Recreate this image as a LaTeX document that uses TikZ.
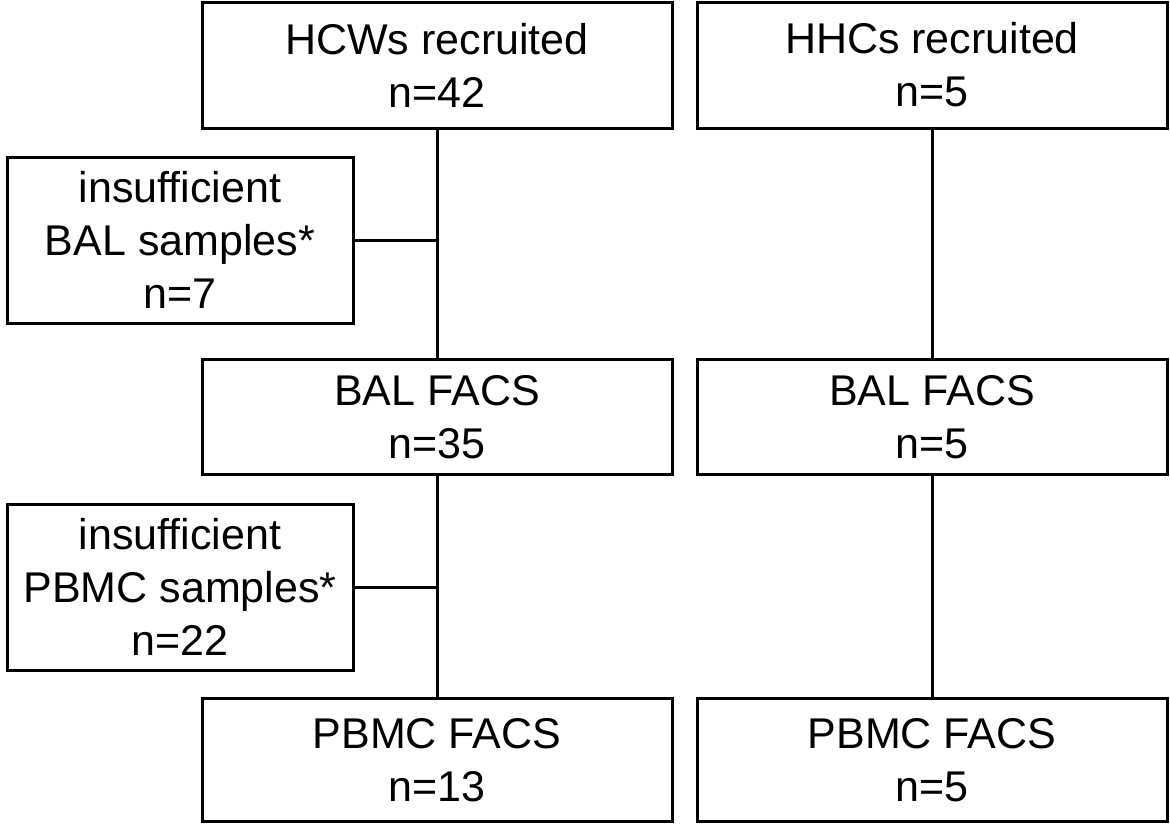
\documentclass[tikz,border=0pt]{standalone}
\usepackage{fontspec}
\setmainfont{Liberation Sans}
\usetikzlibrary{positioning,calc}

\begin{document}
\begin{tikzpicture}[x=1pt,y=-1pt,line width=3pt,every node/.style={font=\fontsize{43}{53}\selectfont,align=center,inner sep=0pt},box/.style={draw=black,minimum width=470pt},side/.style={draw=black,minimum width=346pt,minimum height=166pt}]
\useasboundingbox (0,0) rectangle (1170,823);
\node[box,minimum height=126pt] (hcw) at (437,65) {HCWs recruited\\n=42};
\node[box,minimum height=126pt] (hhc) at (932,65) {HHCs recruited\\n=5};
\node[box,minimum height=115pt] (balL) at (437,417) {BAL FACS\\n=35};
\node[box,minimum height=115pt] (balR) at (932,417) {BAL FACS\\n=5};
\node[box,minimum height=123pt] (pbmcL) at (437,760) {PBMC FACS\\n=13};
\node[box,minimum height=123pt] (pbmcR) at (932,760) {PBMC FACS\\n=5};
\node[side] (exBAL) at (180,240) {insufficient\\BAL samples*\\n=7};
\node[side] (exPBMC) at (180,587) {insufficient\\PBMC samples*\\n=22};
\draw (hcw)--(balL);\draw (balL)--(pbmcL);
\draw (hhc)--(balR);\draw (balR)--(pbmcR);
\draw (exBAL.east)--(exBAL.east -| hcw.south);
\draw (exPBMC.east)--(exPBMC.east -| balL.south);
\end{tikzpicture}
\end{document}
